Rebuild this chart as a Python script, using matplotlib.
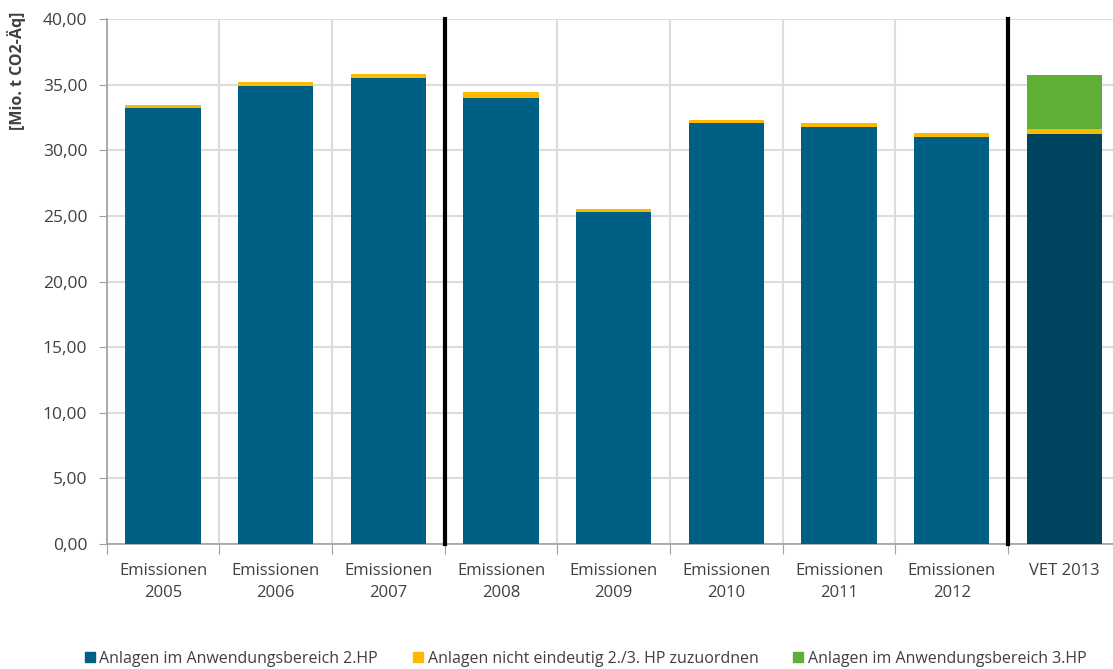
import numpy as np
import matplotlib.pyplot as plt
from matplotlib.ticker import FuncFormatter
from matplotlib.patches import Patch

plt.rcParams['font.family'] = ['Open Sans', 'DejaVu Sans']

labels = ['Emissionen\n2005', 'Emissionen\n2006', 'Emissionen\n2007', 'Emissionen\n2008',
          'Emissionen\n2009', 'Emissionen\n2010', 'Emissionen\n2011', 'Emissionen\n2012',
          'VET 2013']
hp2 = [33.25, 34.92, 35.53, 34.00, 25.30, 32.08, 31.80, 30.99, 31.26]
unklar = [0.20, 0.30, 0.28, 0.41, 0.20, 0.22, 0.30, 0.30, 0.36]
hp3 = [0, 0, 0, 0, 0, 0, 0, 0, 4.14]

c_blue = '#005f85'
c_dark = '#00445f'
c_yellow = '#fbba00'
c_green = '#5fae36'
grid_c = '#dcdcdc'
text_c = '#404040'

fig = plt.figure(figsize=(11.13, 6.69), dpi=100)
ax = fig.add_axes([106.7 / 1113, 1 - 544 / 669, 1014 / 1113, 525 / 669])

x = np.arange(len(labels))
w = 0.67
blue_cols = [c_blue] * 8 + [c_dark]
ax.bar(x, hp2, w, color=blue_cols, zorder=3)
ax.bar(x, unklar, w, bottom=hp2, color=c_yellow, zorder=3)
ax.bar(x, hp3, w, bottom=np.array(hp2) + np.array(unklar), color=c_green, zorder=3)

ax.set_xlim(-0.5, len(labels) - 0.5)
ax.set_ylim(0, 40)
ax.set_yticks(np.arange(0, 41, 5))
ax.yaxis.set_major_formatter(FuncFormatter(lambda v, p: f'{v:.2f}'.replace('.', ',')))

# category boundaries carry the ticks and vertical grid lines
ax.set_xticks(np.arange(-0.5, len(labels), 1.0))
ax.set_xticklabels([])
ax.set_xticks(x, minor=True)
ax.set_xticklabels(labels, minor=True, linespacing=1.45)
ax.tick_params(axis='x', which='minor', length=0, pad=14, labelsize=12, labelcolor=text_c)
ax.tick_params(axis='x', which='major', length=7, color='#a0a0a0', direction='out')
ax.tick_params(axis='y', length=6, color='#a0a0a0', labelsize=12.5, labelcolor=text_c, pad=8)

ax.grid(True, which='major', color=grid_c, linewidth=1.5, zorder=0)

for s in ['top', 'right']:
    ax.spines[s].set_visible(False)
for s in ['left', 'bottom']:
    ax.spines[s].set_color('#a0a0a0')
    ax.spines[s].set_linewidth(1.2)

# period separators
for b in [2.5, 7.5]:
    ax.plot([b, b], [0, 40], color='black', linewidth=3, zorder=4, clip_on=False)

fig.text(17 / 1113, 1 - 12 / 669, '[Mio. t CO2-Äq]', rotation=90, ha='center', va='top',
         fontsize=11.5, fontweight='bold', color=text_c)

handles = [Patch(color=c_blue, label='Anlagen im Anwendungsbereich 2.HP'),
           Patch(color=c_yellow, label='Anlagen nicht eindeutig 2./3. HP zuzuordnen'),
           Patch(color=c_green, label='Anlagen im Anwendungsbereich 3.HP')]
fig.legend(handles=handles, loc='center left', bbox_to_anchor=(77 / 1113, 1 - 659 / 669), ncol=3,
           frameon=False, borderpad=0, handlelength=0.6, handleheight=0.6,
           handletextpad=0.3, columnspacing=2.2, labelcolor=text_c,
           prop={'size': 11.5})

fig.savefig('out.png', dpi=100)
